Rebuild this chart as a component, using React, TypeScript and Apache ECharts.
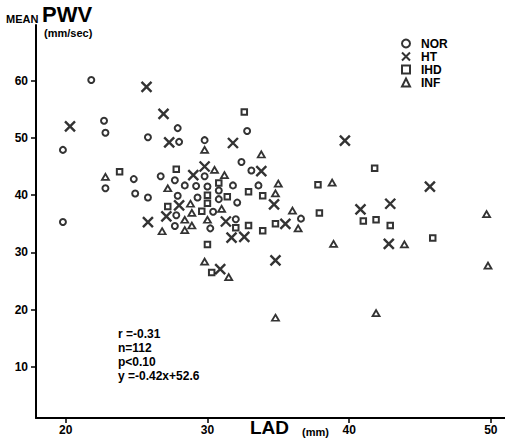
import React, { useEffect, useRef } from "react";
import * as echarts from "echarts";

// LAD (mm) vs mean PWV (mm/sec), one list of [LAD, PWV] pairs per group
const norPoints: [number, number][] = [
  [21.8, 60.1], [22.7, 53.0], [22.8, 50.9], [27.9, 51.7], [25.8, 50.1],
  [28.0, 49.3], [19.8, 47.9], [22.8, 41.2], [24.8, 42.8], [24.9, 40.3],
  [25.8, 39.6], [26.7, 43.3], [27.7, 42.6], [28.4, 41.7], [29.2, 41.6],
  [27.9, 39.9], [29.3, 39.6], [19.8, 35.3], [27.8, 36.5], [27.7, 34.6],
  [32.8, 51.2], [29.8, 49.6], [32.4, 45.8], [33.1, 44.3], [29.8, 43.3],
  [30.0, 41.5], [31.8, 41.7], [33.6, 41.7], [30.8, 40.8], [30.8, 39.3],
  [32.1, 38.7], [30.4, 37.1], [36.6, 35.9], [32.0, 35.8], [30.2, 34.2],
];
const htPoints: [number, number][] = [
  [20.3, 52.0], [25.7, 58.9], [26.9, 54.2], [27.3, 49.2], [31.8, 49.1],
  [39.7, 49.5], [29.8, 45.0], [29.0, 43.5], [33.8, 44.2], [28.0, 38.2],
  [34.7, 38.4], [27.1, 36.3], [25.8, 35.3], [31.3, 35.4], [35.5, 35.0],
  [31.7, 32.6], [32.6, 32.7], [30.9, 27.1], [34.8, 28.6], [45.7, 41.5],
  [42.9, 38.5], [40.8, 37.5], [42.8, 31.5],
];
const ihdPoints: [number, number][] = [
  [32.6, 54.5], [23.8, 44.1], [27.8, 44.5], [30.8, 42.1], [30.0, 40.0],
  [30.0, 38.6], [27.2, 38.0], [29.6, 37.2], [31.4, 39.7], [32.9, 40.6],
  [33.9, 39.9], [34.8, 35.0], [32.0, 34.3], [32.9, 34.7], [33.9, 33.8],
  [30.0, 31.4], [30.3, 26.5], [41.8, 44.7], [37.8, 41.8], [37.9, 36.9],
  [41.0, 35.5], [41.9, 35.7], [42.9, 34.7], [45.9, 32.5],
];
const infPoints: [number, number][] = [
  [22.8, 43.2], [27.2, 41.2], [29.8, 47.9], [30.5, 44.4], [31.2, 43.5],
  [33.8, 47.1], [35.0, 42.0], [34.8, 40.3], [28.8, 38.5], [28.9, 36.9],
  [28.4, 35.7], [28.9, 34.7], [28.4, 33.9], [26.8, 33.7], [30.0, 35.7],
  [31.0, 37.6], [36.0, 37.3], [36.4, 34.2], [29.8, 28.4], [31.5, 25.7],
  [38.8, 42.2], [38.9, 31.5], [43.9, 31.4], [41.9, 19.4], [34.8, 18.6],
  [49.7, 36.7], [49.8, 27.7],
];

const xTicks = [20, 30, 40, 50];
const yTicks = [10, 20, 30, 40, 50, 60];
const statLines = ["r =-0.31", "n=112", "p<0.10", "y =-0.42x+52.6"];

const INK = "#000";
const FONT = "Liberation Sans, Arial, sans-serif";

const crossPath = "path://M0 0L10 10M10 0L0 10";

export default function App() {
  const ref = useRef<HTMLDivElement>(null);

  useEffect(() => {
    if (!ref.current) return;
    const chart = echarts.init(ref.current, null, { renderer: "svg" });

    const hollow = (w: number) => ({
      color: "transparent",
      borderColor: INK,
      borderWidth: w,
    });

    chart.setOption({
      animation: false,
      backgroundColor: "#fff",
      textStyle: { fontFamily: FONT },
      grid: { left: 36, top: 25, right: 0, bottom: 22 },
      legend: {
        orient: "vertical",
        left: 401,
        top: 37,
        padding: 0,
        itemWidth: 8,
        itemHeight: 8,
        itemGap: 0,
        textStyle: {
          fontFamily: FONT,
          fontWeight: "bold",
          fontSize: 12,
          lineHeight: 13,
          color: INK,
          padding: [0, 0, 0, 6],
        },
        data: ["NOR", "HT", "IHD", "INF"],
      },
      xAxis: {
        type: "value",
        min: 17.9,
        max: 51,
        splitLine: { show: false },
        axisLine: { show: true, lineStyle: { color: INK, width: 2 } },
        axisTick: {
          show: true,
          customValues: xTicks,
          length: 5,
          lineStyle: { color: INK, width: 1.5 },
        },
        axisLabel: {
          customValues: xTicks,
          margin: 6,
          color: INK,
          fontSize: 12,
          fontWeight: "bold",
          fontFamily: FONT,
        },
      },
      yAxis: {
        type: "value",
        min: 1.1,
        max: 69.7,
        splitLine: { show: false },
        axisLine: { show: true, lineStyle: { color: INK, width: 2 } },
        axisTick: {
          show: true,
          customValues: yTicks,
          length: 5,
          lineStyle: { color: INK, width: 1.5 },
        },
        axisLabel: {
          customValues: yTicks,
          margin: 8,
          color: INK,
          fontSize: 12,
          fontWeight: "bold",
          fontFamily: FONT,
        },
      },
      series: [
        {
          name: "NOR",
          type: "scatter",
          data: norPoints,
          symbol: "circle",
          symbolSize: 6,
          itemStyle: hollow(2),
        },
        {
          name: "HT",
          type: "scatter",
          data: htPoints,
          symbol: crossPath,
          symbolSize: 10,
          itemStyle: hollow(2.4),
        },
        {
          name: "IHD",
          type: "scatter",
          data: ihdPoints,
          symbol: "rect",
          symbolSize: 5.5,
          itemStyle: hollow(2),
        },
        {
          name: "INF",
          type: "scatter",
          data: infPoints,
          symbol: "triangle",
          symbolSize: [7, 6],
          itemStyle: hollow(1.8),
        },
      ],
      graphic: [
        {
          type: "text",
          left: 6,
          top: 13,
          style: { text: "MEAN", font: `bold 11px ${FONT}`, fill: INK },
        },
        {
          type: "text",
          left: 42,
          top: 3,
          style: { text: "PWV", font: `bold 22px ${FONT}`, fill: INK },
        },
        {
          type: "text",
          left: 44,
          top: 27,
          style: { text: "(mm/sec)", font: `bold 11px ${FONT}`, fill: INK },
        },
        {
          type: "text",
          left: 250,
          top: 418,
          style: { text: "LAD", font: `bold 19px ${FONT}`, fill: INK },
        },
        {
          type: "text",
          left: 302,
          top: 426,
          style: { text: "(mm)", font: `bold 11px ${FONT}`, fill: INK },
        },
        {
          type: "text",
          left: 118,
          top: 327,
          style: {
            text: statLines.join("\n"),
            font: `bold 12px ${FONT}`,
            lineHeight: 14,
            fill: INK,
          },
        },
      ],
    });

    return () => chart.dispose();
  }, []);

  return (
    <div
      ref={ref}
      style={{ position: "fixed", left: 0, top: 0, width: 505, height: 440 }}
    />
  );
}
